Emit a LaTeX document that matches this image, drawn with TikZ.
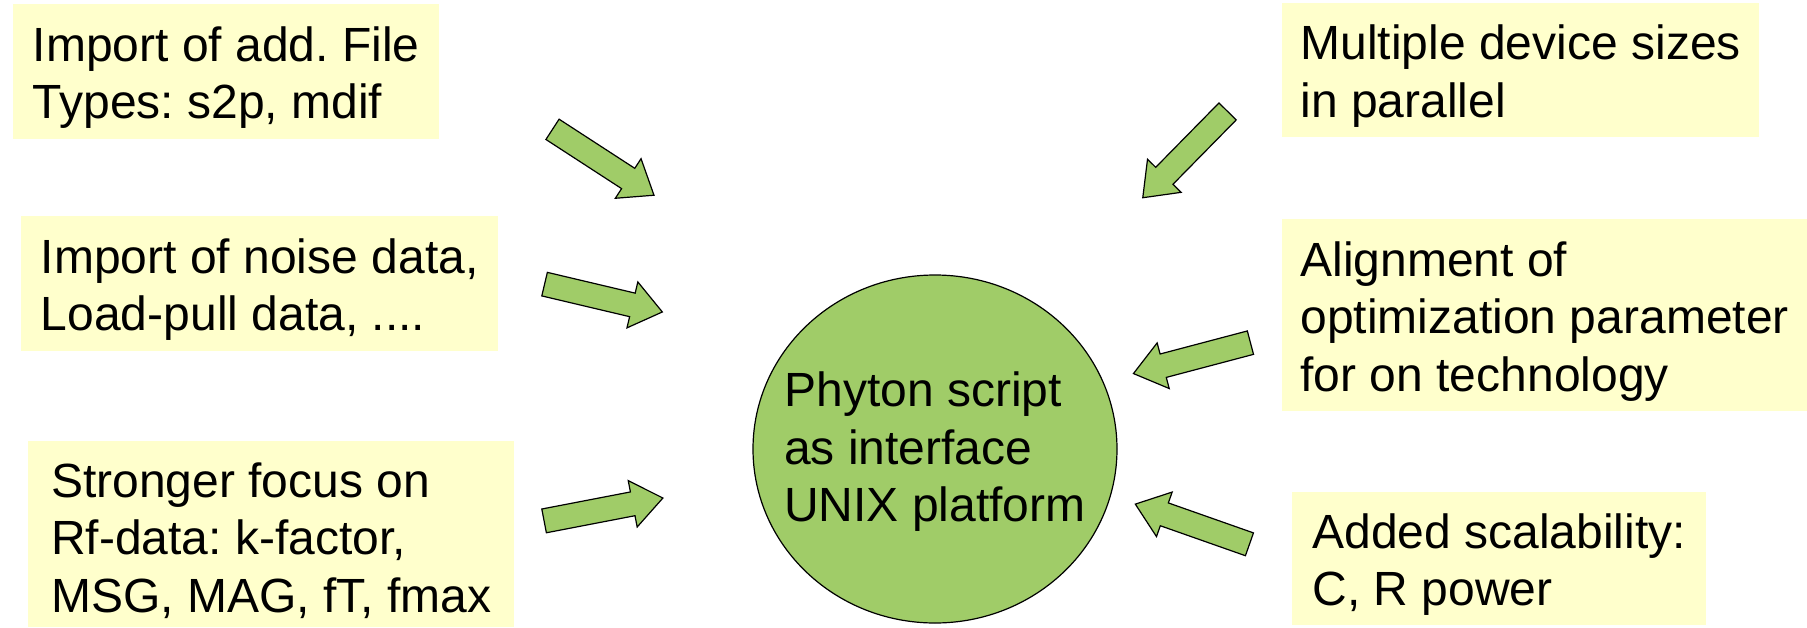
\documentclass[tikz,border=0pt]{standalone}
\usepackage{fontspec}
\setmainfont{Liberation Sans}
\usetikzlibrary{shapes.geometric, shapes.arrows}
\definecolor{notefill}{HTML}{FFFFCC}
\definecolor{leafgreen}{HTML}{A0CC68}
% extra room above the first line of a box
\newcommand{\topgap}{\rule{0pt}{47pt}}
\frenchspacing

\begin{document}
\begin{tikzpicture}[x=1pt, y=-1pt,
  note/.style={fill=notefill, anchor=north west, inner sep=0pt, align=left,
    font=\fontsize{48}{57.5}\selectfont},
  push/.style={single arrow, draw=black, line width=1.2pt, fill=leafgreen,
    anchor=tail, inner xsep=0pt, inner ysep=11.5pt, minimum height=121pt,
    single arrow head extend=11.5pt, single arrow tip angle=75},
  hub/.style={ellipse, draw=black, line width=1.2pt, fill=leafgreen,
    minimum width=364pt, minimum height=348pt, inner sep=0pt},
  hubtext/.style={align=left, inner sep=0pt, font=\fontsize{48}{57.5}\selectfont}
]
\useasboundingbox (0,0) rectangle (1807,627);

% Central script
\node[hub] (hub) at (935,449) {};
\node[hubtext] (hubtext) at (935,452) {Phyton script\\as interface\\UNIX platform};

% Boxes on the left
\node[note, minimum width=426pt, minimum height=135pt] (types) at (13,4)
  {\topgap Import of add. File\\Types: s2p, mdif};
\node[note, minimum width=477pt, minimum height=135pt] (noise) at (21,216)
  {\topgap Import of noise data,\\Load-pull data, ....};
\node[note, minimum width=486pt, minimum height=186pt] (rfdata) at (28,441)
  {\topgap Stronger focus on\\Rf-data: k-factor,\\MSG, MAG, fT, fmax};

% Boxes on the right
\node[note, minimum width=477pt, minimum height=134pt] (sizes) at (1282,3)
  {\topgap Multiple device sizes\\in parallel};
\node[note, minimum width=525pt, minimum height=192pt] (optim) at (1282,219)
  {\topgap Alignment of\\optimization parameter\\for on technology};
\node[note, minimum width=414pt, minimum height=133pt] (scale) at (1292,492)
  {\topgap Added scalability:\\C, R power};

% Block arrows into the script
\node[push, rotate=-33] (a1) at (552,129) {};
\node[push, rotate=-13.3] (a2) at (544,284) {};
\node[push, rotate=10.9] (a3) at (543.5,521) {};
\node[push, rotate=-134.5] (a4) at (1228,111) {};
\node[push, rotate=-165.2] (a5) at (1251,342.5) {};
\node[push, rotate=160.6] (a6) at (1250,544.5) {};
\end{tikzpicture}
\end{document}
